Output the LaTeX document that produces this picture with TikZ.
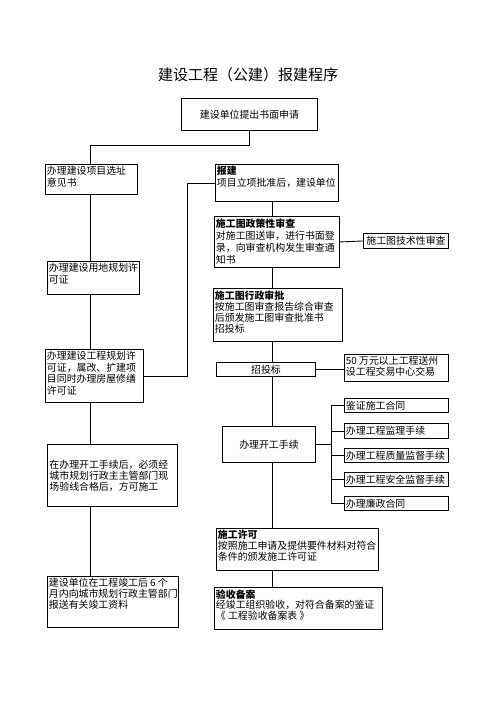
\documentclass[tikz,border=0pt]{standalone}
\usepackage{fontspec}
\setmainfont{Noto Sans CJK SC}
\newcommand\tbx[4]{\parbox[t][\dimexpr#2pt-4pt\relax][t]{\dimexpr#1pt-3pt\relax}{\fontsize{9.9pt}{#3pt}\selectfont\raggedright #4}}
\tikzset{
  bx/.style={draw, line width=0.9pt, inner xsep=1.5pt, inner ysep=2pt, anchor=north west, font=\fontsize{9.9pt}{12pt}\selectfont},
  cbx/.style={draw, line width=0.9pt, inner sep=0pt, anchor=north west, align=center, font=\fontsize{9.9pt}{12pt}\selectfont},
  ln/.style={line width=0.9pt}
}
\begin{document}
\begin{tikzpicture}[x=1pt,y=-1pt]
\useasboundingbox (0,0) rectangle (496,702);
\node[font=\fontsize{15pt}{18pt}\selectfont] (title) at (248,75) {建设工程（公建）报建程序};
% spines
\coordinate (ls) at (90,0);
\coordinate (rs) at (187,0);
\coordinate (ms) at (272,0);
\coordinate (bus) at (331,0);
\coordinate (j1) at (0,145);
% boxes
\node[cbx, minimum width=136pt, minimum height=32pt] (b1) at (181,98) {建设单位提出书面申请};
\node[bx] (xz) at (45,164) {\tbx{92}{30}{11.5}{办理建设项目选址\\意见书}};
\node[bx] (yd) at (47,261) {\tbx{92}{33}{11.5}{办理建设用地规划许\\可证}};
\node[bx] (gh) at (45,349) {\tbx{98}{53}{11.5}{办理建设工程规划许\\可证，属改、扩建项\\目同时办理房屋修缮\\许可证}};
\node[draw, line width=0.9pt, anchor=north west, minimum width=130pt, minimum height=62pt, text width=126pt, inner sep=2pt, align=left, font=\fontsize{9.9pt}{11pt}\selectfont] (kh) at (47,444) {在办理开工手续后，必须经\\城市规划行政主主管部门现\\场验线合格后，方可施工};
\node[bx] (jg) at (47,576) {\tbx{131}{51}{10.6}{建设单位在工程竣工后 6 个\\月内向城市规划行政主管部门\\报送有关竣工资料}};
\node[bx] (bj) at (215,164) {\tbx{123}{37}{12}{\textbf{报建}\\项目立项批准后，建设单位}};
\node[bx] (zc) at (214,216) {\tbx{125}{51}{12}{\textbf{施工图政策性审查}\\对施工图送审，进行书面登\\录，向审查机构发生审查通\\知书}};
\node[cbx, minimum width=85pt, minimum height=15pt] (js) at (363,233) {施工图技术性审查};
\node[bx] (xs) at (213,288) {\tbx{129}{53}{11.3}{\textbf{施工图行政审批}\\按施工图审查报告综合审查\\后颁发施工图审查批准书\\招投标}};
\node[cbx, minimum width=99pt, minimum height=14pt] (zt) at (216,362) {招投标};
\node[bx] (wy) at (344,354) {\tbx{104}{27}{11}{50 万元以上工程送州\\设工程交易中心交易}};
\node[cbx, minimum width=93pt, minimum height=36pt] (kg) at (222,426) {办理开工手续};
\node[bx, inner ysep=0pt, minimum width=104pt, minimum height=14pt, text width=101pt] (r1) at (344,398) {鉴证施工合同};
\node[bx, inner ysep=0pt, minimum width=104pt, minimum height=15pt, text width=101pt] (r2) at (344,423) {办理工程监理手续};
\node[bx, inner ysep=0pt, minimum width=104pt, minimum height=14pt, text width=101pt] (r3) at (344,448) {办理工程质量监督手续};
\node[bx, inner ysep=0pt, minimum width=104pt, minimum height=14pt, text width=101pt] (r4) at (344,472) {办理工程安全监督手续};
\node[bx, inner ysep=0pt, minimum width=104pt, minimum height=14pt, text width=101pt] (r5) at (344,496) {办理廉政合同};
\node[bx] (sx) at (216,528) {\tbx{162}{42}{10.6}{\textbf{施工许可}\\按照施工申请及提供要件材料对符合\\条件的颁发施工许可证}};
\node[bx] (ys) at (214,587) {\tbx{168}{42}{10.6}{\textbf{验收备案}\\经竣工组织验收，对符合备案的鉴证\\《 工程验收备案表 》}};
% connectors
\draw[ln] (b1.south) -- (b1.south |- j1) -- (j1 -| ls) -- (xz.north -| ls);
\draw[ln] (xz.south -| ls) -- (yd.north -| ls);
\draw[ln] (yd.south -| ls) -- (gh.north -| ls);
\draw[ln] (gh.south -| ls) -- (kh.north -| ls);
\draw[ln] (kh.south -| ls) -- (jg.north -| ls);
\draw[ln] (gh.east) -- (gh.east -| rs) |- (bj.west);
\draw[ln] (bj.south -| ms) -- (zc.north -| ms);
\draw[ln] (zc.east) -- (js.west);
\draw[ln] (zc.south -| ms) -- (xs.north -| ms);
\draw[ln] (xs.south -| ms) -- (zt.north -| ms);
\draw[ln] (zt.east) -- (zt.east -| wy.west);
\draw[ln] (zt.south -| ms) -- (kg.north -| ms);
\draw[ln] (kg.east) -- (kg.east -| bus);
\draw[ln] (r1.west -| bus) -- (r5.west -| bus);
\foreach \r in {r1,r2,r3,r4,r5} \draw[ln] (\r.west -| bus) -- (\r.west);
\draw[ln] (kg.south -| ms) -- (sx.north -| ms);
\draw[ln] (sx.south -| ms) -- (ys.north -| ms);
\end{tikzpicture}
\end{document}
